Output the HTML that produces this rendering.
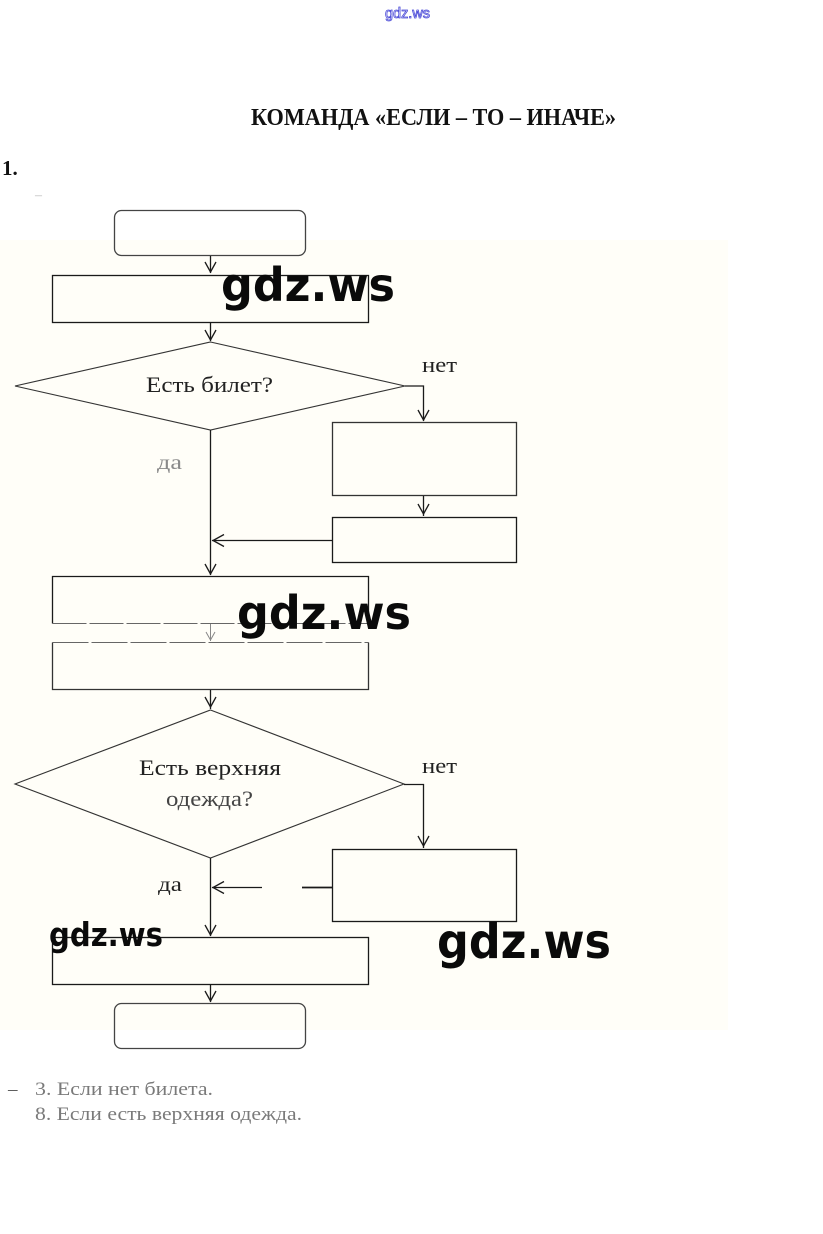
<!DOCTYPE html>
<html>
<head>
<meta charset="utf-8">
<style>
  html,body{margin:0;padding:0;background:#ffffff;}
  body{width:823px;height:1234px;overflow:hidden;position:relative;}
  svg{position:absolute;left:0;top:0;}
</style>
</head>
<body>
<svg width="823" height="1234" viewBox="0 0 823 1234" xmlns="http://www.w3.org/2000/svg">
  <rect x="0" y="0" width="823" height="1234" fill="#ffffff"/>
  <rect x="0" y="240" width="728" height="790" fill="#fffef8"/>

  <!-- top watermark -->
  <text x="385" y="18" font-family="Liberation Sans, sans-serif" font-size="14.5" fill="#ffffff" stroke="#4b4bd8" stroke-width="0.8" textLength="45" lengthAdjust="spacingAndGlyphs">gdz.ws</text>

  <!-- title -->
  <text x="251" y="125" font-family="Liberation Serif, serif" font-weight="bold" font-size="24" fill="#111" textLength="365" lengthAdjust="spacingAndGlyphs">КОМАНДА «ЕСЛИ – ТО – ИНАЧЕ»</text>

  <text x="2" y="175" font-family="Liberation Serif, serif" font-weight="bold" font-size="21" fill="#111">1.</text>
  <text x="35" y="199" font-family="Liberation Serif, serif" font-size="14" fill="#bbb">–</text>

  <g fill="none" stroke="#1a1a1a" stroke-width="1.3">
    <!-- start rounded rect -->
    <rect x="114.5" y="210.5" width="191" height="45" rx="7" stroke="#444"/>
    <!-- arrow start -> M1 -->
    <line x1="210.5" y1="256" x2="210.5" y2="273"/>
    <polyline points="205,262 210.5,272 216,262"/>
    <!-- M1 -->
    <rect x="52.5" y="275.5" width="316" height="47"/>
    <line x1="210.5" y1="323" x2="210.5" y2="341"/>
    <polyline points="205,330 210.5,340 216,330"/>
    <!-- Diamond 1 -->
    <polygon points="210.5,342 405,386 210.5,430 15,386" stroke="#333" stroke-width="1.1"/>
    <!-- no branch -->
    <polyline points="405,386 423.5,386 423.5,421"/>
    <polyline points="418,410 423.5,420 429,410"/>
    <!-- R1 -->
    <rect x="332.5" y="422.5" width="184" height="73" stroke="#333"/>
    <line x1="423.5" y1="496" x2="423.5" y2="516"/>
    <polyline points="418,504 423.5,514 429,504"/>
    <!-- R2 -->
    <rect x="332.5" y="517.5" width="184" height="45"/>
    <line x1="332" y1="540.5" x2="212" y2="540.5"/>
    <polyline points="224,534.5 213,540.5 224,546.5"/>
    <!-- yes branch 1 -->
    <line x1="210.5" y1="430" x2="210.5" y2="575"/>
    <polyline points="205,564 210.5,574 216,564"/>
    <!-- M3 -->
    <polyline points="52.5,623.5 52.5,576.5 368.5,576.5 368.5,623.5"/>
    <line x1="52.5" y1="623.5" x2="368.5" y2="623.5" stroke="#666" stroke-width="1" stroke-dasharray="34 3"/>
    <!-- faint arrow M3 -> M4 -->
    <line x1="210.5" y1="624" x2="210.5" y2="641" stroke="#888" stroke-width="1"/>
    <polyline points="206,632 210.5,640 215,632" stroke="#888" stroke-width="1"/>
    <!-- M4 -->
    <line x1="52.5" y1="642.5" x2="368.5" y2="642.5" stroke="#666" stroke-width="1" stroke-dasharray="36 3"/>
    <polyline points="52.5,642.5 52.5,689.5 368.5,689.5 368.5,642.5" stroke="#333"/>
    <line x1="210.5" y1="690" x2="210.5" y2="709"/>
    <polyline points="205,697 210.5,707 216,697"/>
    <!-- Diamond 2 -->
    <polygon points="210.5,710 404,784 210.5,858 15,784" stroke="#333" stroke-width="1.1"/>
    <polyline points="404,784.5 423.5,784.5 423.5,848"/>
    <polyline points="418,836 423.5,846 429,836"/>
    <!-- R3 -->
    <rect x="332.5" y="849.5" width="184" height="72"/>
    <line x1="332" y1="887.5" x2="302" y2="887.5" stroke-width="1.8"/>
    <line x1="262" y1="887.5" x2="212" y2="887.5"/>
    <polyline points="224,881.5 213,887.5 224,893.5"/>
    <!-- yes branch 2 -->
    <line x1="210.5" y1="858" x2="210.5" y2="936"/>
    <polyline points="205,925 210.5,935 216,925"/>
    <!-- M5 -->
    <rect x="52.5" y="937.5" width="316" height="47"/>
    <line x1="210.5" y1="985" x2="210.5" y2="1002"/>
    <polyline points="205,991 210.5,1001 216,991"/>
    <!-- end rounded rect -->
    <rect x="114.5" y="1003.5" width="191" height="45" rx="7" stroke="#444"/>
  </g>

  <!-- diamond texts -->
  <g font-family="Liberation Serif, serif" fill="#222">
    <text x="146" y="392" font-size="22" textLength="127" lengthAdjust="spacingAndGlyphs">Есть билет?</text>
    <text x="422" y="372" font-size="22" textLength="35" lengthAdjust="spacingAndGlyphs">нет</text>
    <text x="157" y="469" font-size="20" fill="#8a8a8a" textLength="25" lengthAdjust="spacingAndGlyphs">да</text>
    <text x="139" y="775" font-size="22" textLength="142" lengthAdjust="spacingAndGlyphs">Есть верхняя</text>
    <text x="166" y="806" font-size="22" fill="#444" textLength="87" lengthAdjust="spacingAndGlyphs">одежда?</text>
    <text x="422" y="773" font-size="22" textLength="35" lengthAdjust="spacingAndGlyphs">нет</text>
    <text x="158" y="891" font-size="20" textLength="24" lengthAdjust="spacingAndGlyphs">да</text>
  </g>

  <!-- bottom notes -->
  <g font-family="Liberation Serif, serif" fill="#7a7a7a" font-size="19">
    <text x="8" y="1095" fill="#555">–</text>
    <text x="35" y="1095" textLength="178" lengthAdjust="spacingAndGlyphs">3. Если нет билета.</text>
    <text x="35" y="1120" textLength="267" lengthAdjust="spacingAndGlyphs">8. Если есть верхняя одежда.</text>
  </g>

  <!-- watermarks -->
  <g font-family="DejaVu Sans, sans-serif" font-weight="bold" fill="#0a0a0a">
    <text x="221" y="301" font-size="46" textLength="174" lengthAdjust="spacingAndGlyphs">gdz.ws</text>
    <text x="237" y="629" font-size="46" textLength="174" lengthAdjust="spacingAndGlyphs">gdz.ws</text>
    <text x="437" y="958" font-size="48" textLength="174" lengthAdjust="spacingAndGlyphs">gdz.ws</text>
    <text x="49" y="946" font-size="33" textLength="114" lengthAdjust="spacingAndGlyphs">gdz.ws</text>
  </g>
</svg>
</body>
</html>
